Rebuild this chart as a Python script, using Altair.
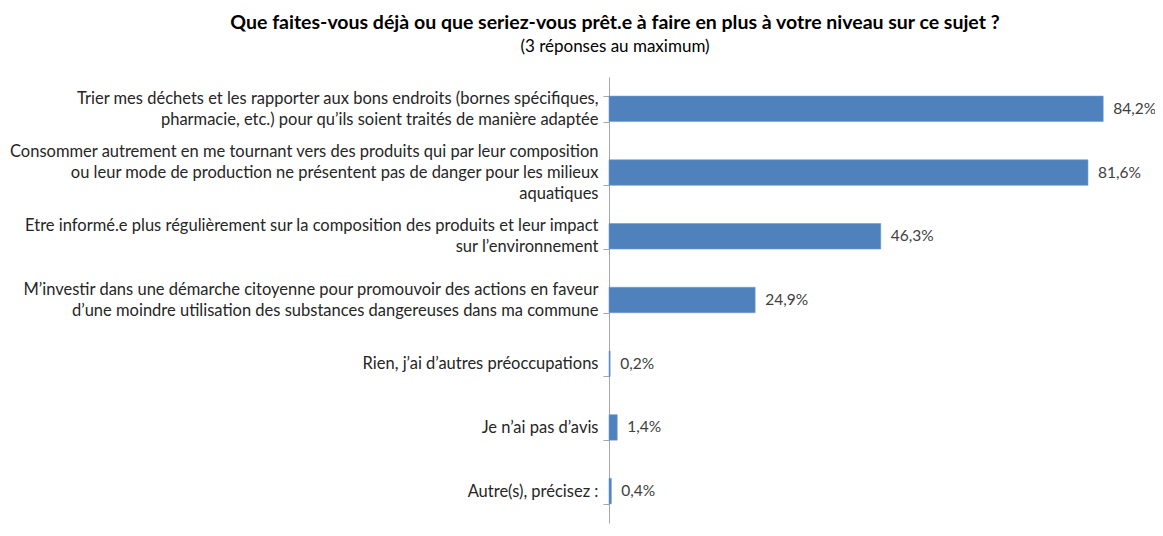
import altair as alt
import pandas as pd

categories = [
    "Trier mes déchets et les rapporter aux bons endroits (bornes spécifiques,|pharmacie, etc.) pour qu’ils soient traités de manière adaptée",
    "Consommer autrement en me tournant vers des produits qui par leur composition|ou leur mode de production ne présentent pas de danger pour les milieux|aquatiques",
    "Etre informé.e plus régulièrement sur la composition des produits et leur impact|sur l’environnement",
    "M’investir dans une démarche citoyenne pour promouvoir des actions en faveur|d’une moindre utilisation des substances dangereuses dans ma commune",
    "Rien, j’ai d’autres préoccupations",
    "Je n’ai pas d’avis",
    "Autre(s), précisez :",
]
values = [84.2, 81.6, 46.3, 24.9, 0.2, 1.4, 0.4]

df = pd.DataFrame({"cat": categories, "val": values})

FONT = "Lato"
LINE_H = 21

y_enc = alt.Y(
    "cat:N",
    sort=categories,
    title=None,
    scale=alt.Scale(paddingInner=0.6, paddingOuter=0.3),
    axis=alt.Axis(
        labelExpr="split(datum.label, '|')",
        labelFont=FONT,
        labelFontSize=16.5,
        labelLineHeight=LINE_H,
        labelColor="#262626",
        labelPadding=5,
        labelLimit=0,
        labelOffset={
            "condition": [
                {"test": "length(split(datum.value, '|')) == 3", "value": -LINE_H},
                {"test": "length(split(datum.value, '|')) == 2", "value": -LINE_H / 2},
            ],
            "value": 0,
        },
        tickBand="extent",
        tickSize=6,
        tickColor="#a6a6a6",
        domainColor="#a6a6a6",
        grid=False,
    ),
)

x_enc = alt.X(
    "val:Q",
    title=None,
    scale=alt.Scale(domain=[0, 92]),
    axis=None,
)

base = alt.Chart(df).encode(y=y_enc, x=x_enc)

bars = base.mark_bar(color="#4f81bd", stroke="#6f9bd1", strokeWidth=0.6)

labels = base.transform_calculate(
    lab="replace(format(datum.val, '.1f'), '.', ',') + '%'"
).mark_text(
    align="left", baseline="middle", dx=10, font=FONT, fontSize=15.5, color="#404040"
).encode(text="lab:N")

chart = (
    alt.layer(bars, labels)
    .properties(
        width=540,
        height=446,
        autosize=alt.AutoSizeParams(type="none"),
        padding={"left": 601, "top": 69, "right": 6, "bottom": 2},
        title=alt.TitleParams(
            text="Que faites-vous déjà ou que seriez-vous prêt.e à faire en plus à votre niveau sur ce sujet ?",
            subtitle="(3 réponses au maximum)",
            anchor="middle",
            frame="group",
            dx=-264,
            offset=13,
            font=FONT,
            fontSize=19.5,
            fontWeight="bold",
            color="#000000",
            subtitleFont=FONT,
            subtitleFontSize=17,
            subtitleColor="#000000",
            subtitlePadding=6,
        ),
    )
    .configure_view(stroke=None)
)

chart.save("out.html", embed_options={"renderer": "svg", "actions": False})
